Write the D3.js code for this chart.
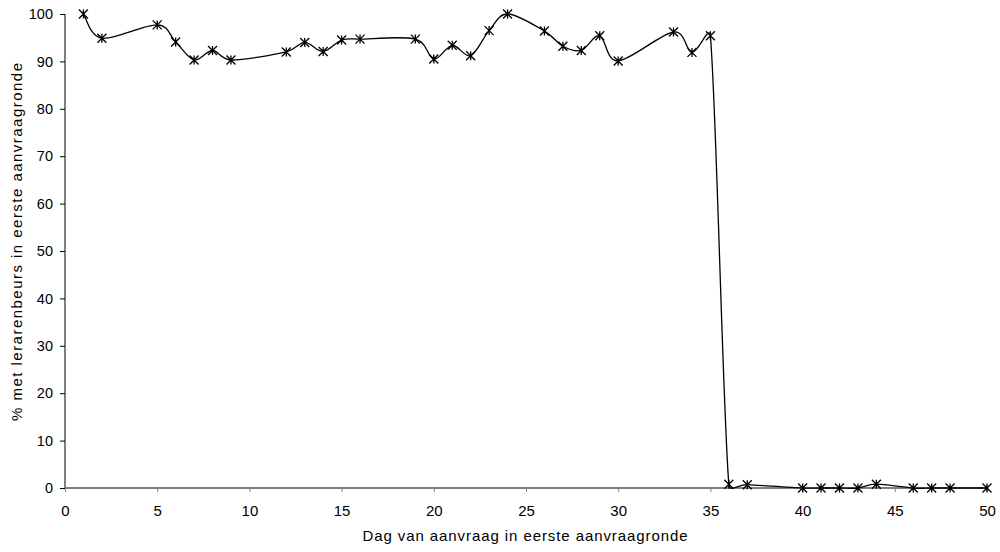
<!DOCTYPE html>
<html>
<head>
<meta charset="utf-8">
<script src="https://cdn.jsdelivr.net/npm/d3@7"></script>
<style>
    body { margin: 0; background: #fff; }
    svg text { font-family: "Liberation Sans", Arial, sans-serif; fill: #000; }
</style>
</head>
<body>
<svg id="chart" width="1000" height="552"></svg>
<script>
// dag van aanvraag en percentage met lerarenbeurs
var days = [1, 2, 5, 6, 7, 8, 9, 12, 13, 14, 15, 16, 19, 20, 21, 22, 23, 24, 26, 27, 28, 29, 30,
    33, 34, 35, 36, 37, 40, 41, 42, 43, 44, 46, 47, 48, 50];
var percent = [100, 94.9, 97.7, 94.1, 90.3, 92.3, 90.3, 92.0, 94.0, 92.1, 94.5, 94.7, 94.7, 90.5,
    93.4, 91.2, 96.5, 100, 96.4, 93.2, 92.3, 95.4, 90.1, 96.2, 91.9, 95.4, 0.8, 0.7,
    0, 0, 0, 0, 0.8, 0, 0, 0, 0];
var xTicks = [0, 5, 10, 15, 20, 25, 30, 35, 40, 45, 50];
var yTicks = [0, 10, 20, 30, 40, 50, 60, 70, 80, 90, 100];

var svg = d3.select("svg#chart"),
    margin = {top: 14, left: 65, bottom: 64, right: 13},
    width = 1000 - margin.left - margin.right,
    height = 552 - margin.top - margin.bottom;

var g = svg.append("g").attr("transform", "translate(" + margin.left + "," + margin.top + ")");

var x = d3.scaleLinear().domain([0, 50]).range([0, width]);
var y = d3.scaleLinear().domain([0, 100]).range([height, 0]);

var data = days.map(function (d, i) {
    return {x: d, y: percent[i]};
});

// y axis
var yAxis = g.append("g")
    .call(d3.axisLeft(y).tickValues(yTicks).tickSize(5).tickPadding(7));
yAxis.select(".domain").attr("stroke", "#000").attr("d", "M0," + height + "V0");
yAxis.selectAll("text").style("font-size", "14.5px");

// x axis
var xAxis = g.append("g")
    .attr("transform", "translate(0," + height + ")")
    .call(d3.axisBottom(x).tickValues(xTicks).tickSize(4).tickPadding(13));
xAxis.select(".domain").attr("stroke", "#808080").attr("stroke-width", 2).attr("d", "M0,0H" + width);
xAxis.selectAll(".tick line").attr("stroke", "#808080");
xAxis.selectAll("text").style("font-size", "15px");

// smoothed line like a spreadsheet: catmull-rom bezier, control arms clamped to half the chord
function smoothPath(pts) {
    var p = d3.path(), n = pts.length;
    function tangent(i) {
        var a = pts[Math.max(i - 1, 0)], b = pts[Math.min(i + 1, n - 1)];
        return [(b[0] - a[0]) / 6, (b[1] - a[1]) / 6];
    }
    function clamp(t, max) {
        var len = Math.sqrt(t[0] * t[0] + t[1] * t[1]);
        if (len > max && len > 0) return [t[0] * max / len, t[1] * max / len];
        return t;
    }
    p.moveTo(pts[0][0], pts[0][1]);
    for (var i = 0; i < n - 1; i++) {
        var p0 = pts[i], p1 = pts[i + 1];
        var chord = Math.sqrt(Math.pow(p1[0] - p0[0], 2) + Math.pow(p1[1] - p0[1], 2));
        var t0 = clamp(tangent(i), chord * 0.5),
            t1 = clamp(tangent(i + 1), chord * 0.5);
        p.bezierCurveTo(p0[0] + t0[0], p0[1] + t0[1], p1[0] - t1[0], p1[1] - t1[1], p1[0], p1[1]);
    }
    return p.toString();
}

var pixelPts = data.map(function (d) { return [x(d.x), y(d.y)]; });

g.append("path")
    .attr("d", smoothPath(pixelPts))
    .attr("fill", "none")
    .attr("stroke", "#000")
    .attr("stroke-width", 1.3);

// asterisk markers
var s = 4.5;
var star = "M" + (-s) + "," + (-s) + "L" + s + "," + s +
    "M" + (-s) + "," + s + "L" + s + "," + (-s) +
    "M0," + (-s) + "L0," + s;
g.selectAll(".marker")
    .data(data)
    .enter().append("path")
    .attr("class", "marker")
    .attr("transform", function (d) { return "translate(" + x(d.x) + "," + y(d.y) + ")"; })
    .attr("d", star)
    .attr("fill", "none")
    .attr("stroke", "#000")
    .attr("stroke-width", 1.3);

// titles
svg.append("text")
    .attr("x", 525)
    .attr("y", 541)
    .attr("text-anchor", "middle")
    .attr("textLength", 325)
    .attr("lengthAdjust", "spacing")
    .style("font-size", "15px")
    .text("Dag van aanvraag in eerste aanvraagronde");

svg.append("text")
    .attr("transform", "translate(22,242) rotate(-90)")
    .attr("text-anchor", "middle")
    .attr("textLength", 358)
    .attr("lengthAdjust", "spacing")
    .style("font-size", "15px")
    .text("% met lerarenbeurs in eerste aanvraagronde");
</script>
</body>
</html>
